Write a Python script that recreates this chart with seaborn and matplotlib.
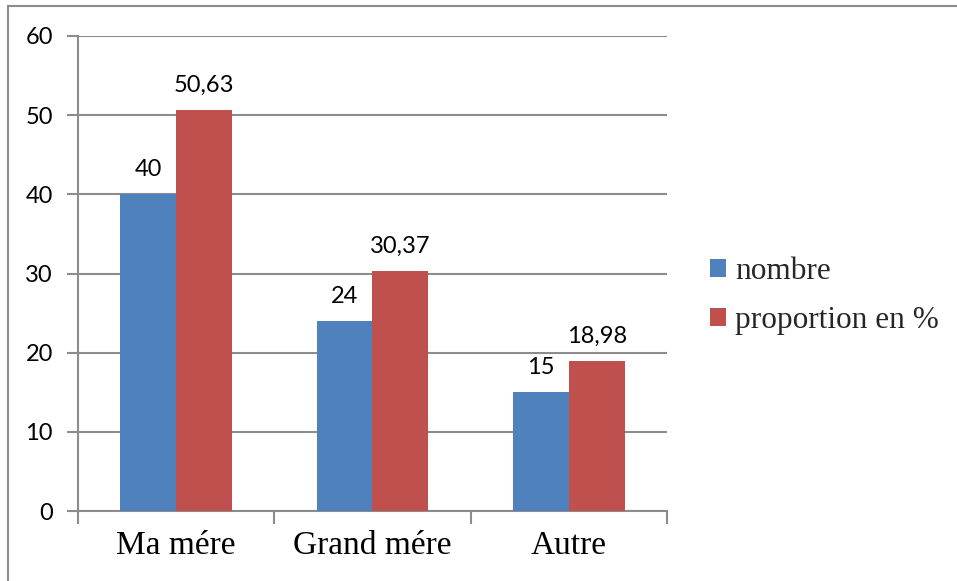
import matplotlib
matplotlib.use("Agg")
import matplotlib.pyplot as plt
from matplotlib.lines import Line2D
from matplotlib.patches import Patch
import seaborn as sns
import pandas as pd

categories = ["Ma mére", "Grand mére", "Autre"]
nombre = [40, 24, 15]
proportion = [50.63, 30.37, 18.98]
series_names = ["nombre", "proportion en %"]
y_ticks = [0, 10, 20, 30, 40, 50, 60]

colors = ["#4F81BD", "#C0504D"]
grid_col = "#8C8C8C"

df = pd.DataFrame({
    "categorie": categories * 2,
    "valeur": nombre + proportion,
    "serie": [series_names[0]] * 3 + [series_names[1]] * 3,
})

sns.set_theme(style="white")
plt.rcParams["font.family"] = ["Lato", "DejaVu Sans"]

fig = plt.figure(figsize=(9.57, 5.81), dpi=100)
ax = fig.add_axes([78 / 957, 1 - 511 / 581, (667 - 78) / 957, (511 - 36) / 581])

sns.barplot(data=df, x="categorie", y="valeur", hue="serie", palette=colors,
            order=categories, hue_order=series_names, width=0.57,
            saturation=1, ax=ax, legend=False, zorder=3)

for bar in ax.patches:
    bar.set_edgecolor("none")

ax.set_xlim(-0.5, 2.5)
ax.set_ylim(0, 60)
ax.set_yticks(y_ticks)
ax.set_yticklabels([str(t) for t in y_ticks], fontsize=17, color="#000000")
ax.yaxis.grid(True, color=grid_col, linewidth=1.5, zorder=0)
ax.set_axisbelow(True)
ax.set_xlabel("")
ax.set_ylabel("")

ax.set_xticks([0, 1, 2])
ax.set_xticklabels(categories, fontsize=24, family=["Liberation Serif"], color="#000000")
ax.tick_params(axis="x", length=0, pad=14)
ax.tick_params(axis="y", which="major", left=True, length=8, width=1.5, color=grid_col, pad=10)

# category separators below the baseline
ax.set_xticks([-0.5, 0.5, 1.5, 2.5], minor=True)
ax.tick_params(axis="x", which="minor", bottom=True, length=9, width=1.5, color=grid_col)

for side in ["top", "right"]:
    ax.spines[side].set_visible(False)
for side in ["left", "bottom"]:
    ax.spines[side].set_color(grid_col)
    ax.spines[side].set_linewidth(1.5)

# value labels
for container, vals in zip(ax.containers, [nombre, proportion]):
    labels = [f"{v:.2f}".replace(".", ",") if v != int(v) else str(int(v)) for v in vals]
    ax.bar_label(container, labels=labels, padding=10, fontsize=17, color="#000000")

handles = [Patch(facecolor=c, edgecolor="none") for c in colors]
fig.legend(handles, series_names, loc="center left", bbox_to_anchor=(710 / 957, 1 - 296 / 581),
           frameon=False, prop={"family": "Liberation Serif", "size": 22.5},
           handlelength=0.5, handleheight=0.5, handletextpad=0.3, labelspacing=0.65,
           borderpad=0, borderaxespad=0)

# outer chart frame (top and left edges)
fig.add_artist(Line2D([8 / 957, 1.0], [1 - 6 / 581, 1 - 6 / 581], transform=fig.transFigure,
                      color="#8C8C8C", linewidth=1.5))
fig.add_artist(Line2D([8 / 957, 8 / 957], [0.0, 1 - 6 / 581], transform=fig.transFigure,
                      color="#8C8C8C", linewidth=1.5))

fig.savefig("out.png", dpi=100, facecolor="white")
